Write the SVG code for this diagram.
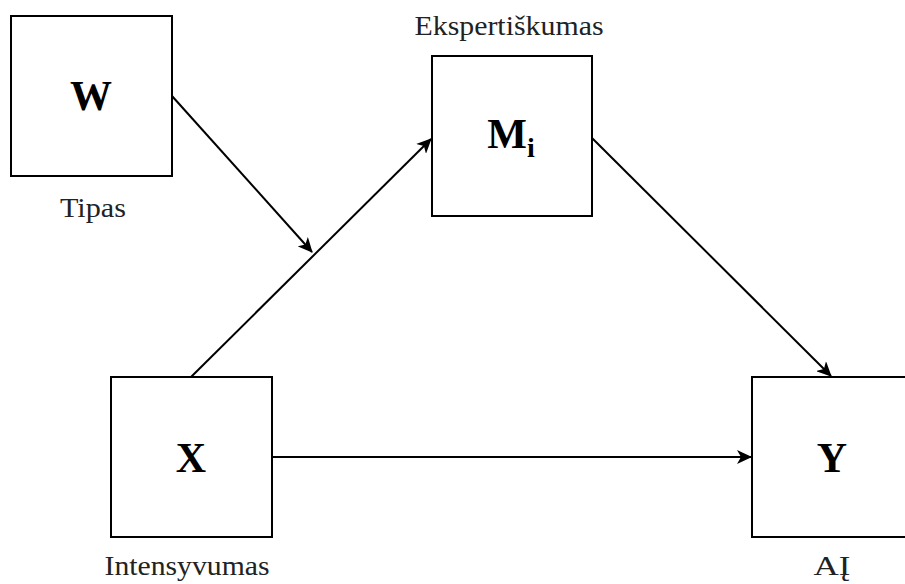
<svg xmlns="http://www.w3.org/2000/svg" width="905" height="584" viewBox="0 0 905 584">
<style>
.box{fill:#fff;stroke:#000;stroke-width:2}
.big{font-family:"Liberation Serif","Times New Roman",serif;font-weight:bold;font-size:42px;text-anchor:middle;fill:#000}
.lbl{font-family:"Liberation Serif","Times New Roman",serif;font-size:27px;text-anchor:middle;fill:#222}
.edge{fill:none;stroke:#000;stroke-width:2;marker-end:url(#arr)}
</style>
<defs>
<marker id="arr" markerWidth="16" markerHeight="14" refX="14" refY="7" orient="auto" markerUnits="userSpaceOnUse">
<path d="M0,0 L15,7 L0,14 L4,7 Z" fill="#000"/>
</marker>
</defs>
<rect width="905" height="584" fill="#fff"/>
<g id="connectors">
<path class="edge" d="M172,96 L312,252"/>
<path class="edge" d="M191,377 L431,139"/>
<path class="edge" d="M592,138 L831,376"/>
<path class="edge" d="M272,457 L751,457"/>
</g>
<g id="node-W">
<rect class="box" x="11" y="16" width="161" height="160"/>
<text class="big" x="91" y="110">W</text>
<text class="lbl" x="93" y="217" textLength="66" lengthAdjust="spacingAndGlyphs">Tipas</text>
</g>
<g id="node-M">
<rect class="box" x="432" y="56" width="160" height="160"/>
<text class="big" x="511" y="148">M<tspan font-size="28" dy="9">i</tspan></text>
<text class="lbl" x="509" y="35" textLength="189" lengthAdjust="spacingAndGlyphs">Ekspertiškumas</text>
</g>
<g id="node-X">
<rect class="box" x="111" y="377" width="161" height="160"/>
<text class="big" x="191" y="472">X</text>
<text class="lbl" x="187" y="575" textLength="165" lengthAdjust="spacingAndGlyphs">Intensyvumas</text>
</g>
<g id="node-Y">
<rect class="box" x="752" y="377" width="160" height="160"/>
<text class="big" x="832" y="472">Y</text>
<text class="lbl" x="832" y="575" textLength="37" lengthAdjust="spacingAndGlyphs">AĮ</text>
</g>
</svg>
